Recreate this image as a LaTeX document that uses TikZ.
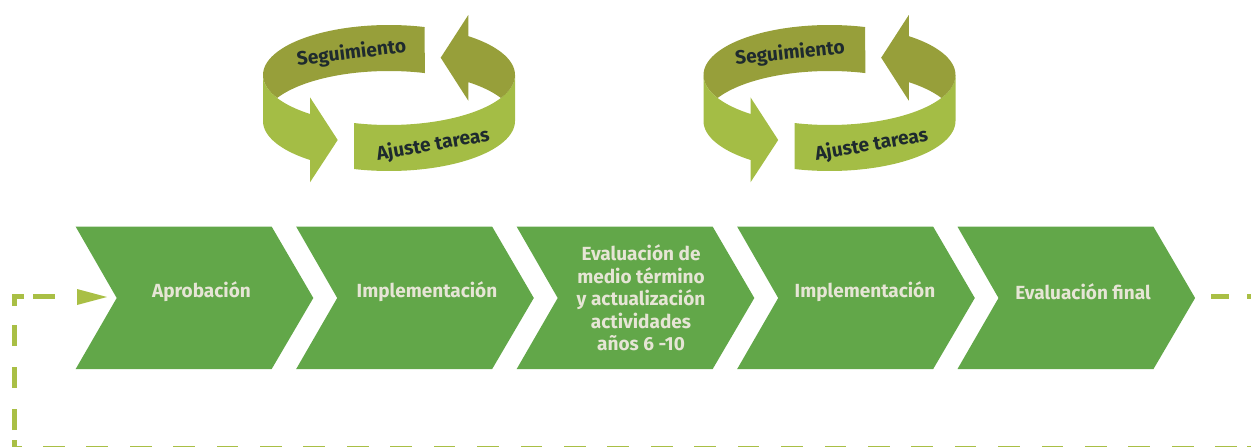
\documentclass[tikz,border=0pt]{standalone}
\usepackage{fontspec}
\setmainfont{Fira Sans}
\usetikzlibrary{arrows.meta}
\definecolor{ribLight}{HTML}{A4BD45}
\definecolor{ribDark}{HTML}{979F3A}
\definecolor{chev}{HTML}{62A749}
\definecolor{chevText}{HTML}{E6E5D5}
\definecolor{ribText}{HTML}{1E2A2E}
\definecolor{loopc}{HTML}{A9BF45}
\tikzset{
  x=1pt,y=-1pt,
  chevshape/.style={fill=chev,draw=none},
  chevlabel/.style={text=chevText,font=\bfseries\fontsize{19}{22.6}\selectfont,align=center,inner sep=0pt},
  riblabel/.style={text=ribText,font=\bfseries\fontsize{19.2}{20}\selectfont,inner sep=0pt},
  lt/.style={fill=ribLight,draw=none},
  dk/.style={fill=ribDark,draw=none},
  loopline/.style={draw=loopc,line width=5pt},
  loopdash/.style={loopline,dash pattern=on 21pt off 21pt},
  loopbottom/.style={loopline,dash pattern=on 21.7pt off 21.72pt},
  loopstub/.style={loopline,dash pattern=on 18.2pt off 18pt},
  looparrow/.style={draw=none,fill=loopc},
}
\newcommand{\earc}[3]{-- plot[domain=#2:#3,samples=36,smooth] ({389+126*cos(\x)},{#1+50*sin(\x)})}
\newcommand{\ribbon}[5]{%
  \begin{scope}[xshift=#1]
    \fill[dk] (424.7,27) \earc{75}{286.5}{180} \earc{75}{180}{152.7} \earc{121}{207.3}{286.5} -- cycle;
    \fill[lt] (263,75) \earc{121}{180}{128.8} -- (310,182.3) -- (337.7,140) -- (310,97.3) \earc{75}{128.8}{180} -- cycle;
    \fill[lt] (354,123) \earc{75}{106.1}{0} \earc{121}{0}{106.1} -- cycle;
    \fill[dk] (468.3,15) -- (440.7,57.7) -- (468.3,100.7) \earc{121}{309}{332.4} \earc{75}{27.6}{0} \earc{75}{360}{309} -- cycle;
  \end{scope}
  \node[riblabel,rotate=#4] (seg#2) at (#3,53.5) {Seguimiento};
  \node[riblabel,rotate=#5] (aju#2) at (#3+81.5,145) {Ajuste tareas};
}
\begin{document}
\begin{tikzpicture}
\useasboundingbox (0,0) rectangle (1251,447);
\clip (0,0) rectangle (1251,447);
\ribbon{0pt}{A}{351.5}{7}{10}
\ribbon{440.5pt}{B}{790}{6}{10}
\foreach \xx in {75.7,296.2,516.7,737.2,957.5}{
  \fill[chevshape] (\xx,226.7) -- (\xx+196,226.7) -- (\xx+237.6,298) -- (\xx+196,369) -- (\xx,369) -- (\xx+41,298) -- cycle;
}
\node[chevlabel] (cha) at (201.5,291.5) {Aprobación};
\node[chevlabel] (chb) at (427,291.5) {Implementación};
\node[chevlabel] (chc) at (641,298) {Evaluación de\\medio término\\y actualización\\actividades\\años 6 -10};
\node[chevlabel] (chd) at (865,291.5) {Implementación};
\node[chevlabel] (che) at (1083,291.5) {Evaluación final};
% feedback loop
\coordinate (outA) at (1211,296.5);
\coordinate (outB) at (1262,296.5);
\coordinate (botR) at (1237,448.2);
\coordinate (botL) at (30,448.2);
\coordinate (botS) at (1247,448.2);
\coordinate (botT) at (1251,448.2);
\coordinate (cornerA) at (22,448.2);
\coordinate (cornerB) at (14,448.2);
\coordinate (cornerC) at (14,440);
\coordinate (upA) at (14,430);
\coordinate (upB) at (14,320);
\coordinate (topA) at (14,306);
\coordinate (topB) at (14,296.5);
\coordinate (topC) at (23.5,296.5);
\coordinate (topD) at (33,296.5);
\coordinate (topE) at (55,296.5);
\draw[loopstub] (outA) -- (outB);
\draw[loopbottom] (botR) -- (botL);
\draw[loopline] (botS) -- (botT);
\draw[loopline] (cornerA) -- (cornerB) -- (cornerC);
\draw[loopdash] (upA) -- (upB);
\draw[loopline] (topA) -- (topB) -- (topC);
\draw[loopline] (topD) -- (topE);
\fill[looparrow] (77,289) -- (107,297) -- (77,305) -- cycle;
\end{tikzpicture}
\end{document}
